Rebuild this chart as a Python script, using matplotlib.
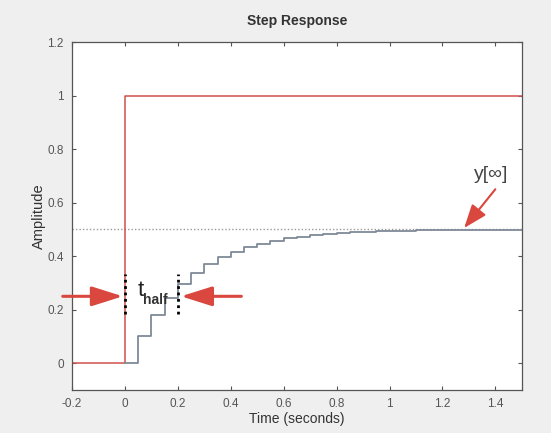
import matplotlib
matplotlib.use("Agg")
import matplotlib.pyplot as plt

# ---- data ----
input_t = [-0.2, 0.0, 1.5]
input_y = [0.0, 1.0, 1.0]

Ts = 0.05
resp_y = [0.0, 0.10, 0.18, 0.244, 0.295, 0.336, 0.369, 0.395, 0.416, 0.433,
          0.446, 0.457, 0.466, 0.473, 0.478, 0.482, 0.486, 0.489, 0.491, 0.493,
          0.494, 0.495, 0.496, 0.497, 0.498, 0.498, 0.498, 0.499, 0.499, 0.499,
          0.499]
resp_t = [k * Ts for k in range(len(resp_y))]

y_inf = 0.5
t_half_level = 0.25
t_half_marks = [0.0, 0.2]

xticks = [-0.2, 0, 0.2, 0.4, 0.6, 0.8, 1, 1.2, 1.4]
xticklabels = ["-0.2", "0", "0.2", "0.4", "0.6", "0.8", "1", "1.2", "1.4"]
yticks = [0, 0.2, 0.4, 0.6, 0.8, 1, 1.2]
yticklabels = ["0", "0.2", "0.4", "0.6", "0.8", "1", "1.2"]

plt.rcParams['font.family'] = ['Liberation Sans', 'DejaVu Sans']

fig = plt.figure(figsize=(5.51, 4.33), dpi=100, facecolor='#efefef')
ax = fig.add_axes([0.1307, 0.0993, 0.8163, 0.8037])
ax.set_facecolor('white')

red = '#d0504c'
stair = '#7f8a99'
arrow_red = '#d9473f'

ax.axhline(y_inf, color='#9a9a9a', lw=1.0, ls=(0, (1, 1.5)), zorder=1)
ax.step(input_t, input_y, where='post', color=red, lw=1.1, zorder=2)
ax.step(resp_t, resp_y, where='post', color=stair, lw=1.3, zorder=3)

# t_half dotted markers
for tm in t_half_marks:
    ax.plot([tm, tm], [0.185, 0.335], color='black', lw=2.0,
            ls=(0, (1, 1.3)), zorder=4)

# arrows
ax.annotate('', xy=(-0.008, t_half_level), xytext=(-0.235, t_half_level),
            arrowprops=dict(arrowstyle='-|>,head_length=0.95,head_width=0.3',
                            color=arrow_red, lw=2.2, shrinkA=0, shrinkB=0,
                            mutation_scale=20),
            annotation_clip=False, zorder=5)
ax.annotate('', xy=(0.212, t_half_level), xytext=(0.44, t_half_level),
            arrowprops=dict(arrowstyle='-|>,head_length=0.95,head_width=0.3',
                            color=arrow_red, lw=2.2, shrinkA=0, shrinkB=0,
                            mutation_scale=20),
            annotation_clip=False, zorder=5)
ax.text(0.048, 0.272, 't', fontsize=16, color='#222222',
        ha='left', va='center', zorder=6)
ax.text(0.07, 0.238, 'half', fontsize=10, fontweight='bold', color='#333333',
        ha='left', va='center', zorder=6)

ax.annotate('', xy=(1.282, 0.505), xytext=(1.40, 0.65),
            arrowprops=dict(arrowstyle='-|>,head_length=0.8,head_width=0.3',
                            color=arrow_red, lw=1.5, shrinkA=0, shrinkB=0,
                            mutation_scale=18),
            zorder=5)
ax.text(1.385, 0.705, 'y[∞]', fontsize=14, color='#444444', ha='center',
        va='center', family=['Liberation Sans', 'DejaVu Sans'])

ax.set_xlim(-0.2, 1.5)
ax.set_ylim(-0.1, 1.2)
ax.set_xticks(xticks)
ax.set_xticklabels(xticklabels)
ax.set_yticks(yticks)
ax.set_yticklabels(yticklabels)
ax.tick_params(direction='in', length=3, width=0.8, colors='#555555',
               labelsize=8.5, top=True, right=True, pad=6)
for s in ax.spines.values():
    s.set_color('#555555')
    s.set_linewidth(0.9)

ax.set_title('Step Response', fontsize=10, fontweight='bold', color='#333333', pad=12)
ax.set_xlabel('Time (seconds)', fontsize=10, color='#333333', labelpad=1)
ax.set_ylabel('Amplitude', fontsize=10.5, color='#333333', labelpad=1)

fig.savefig('out.png', dpi=100, facecolor=fig.get_facecolor())
